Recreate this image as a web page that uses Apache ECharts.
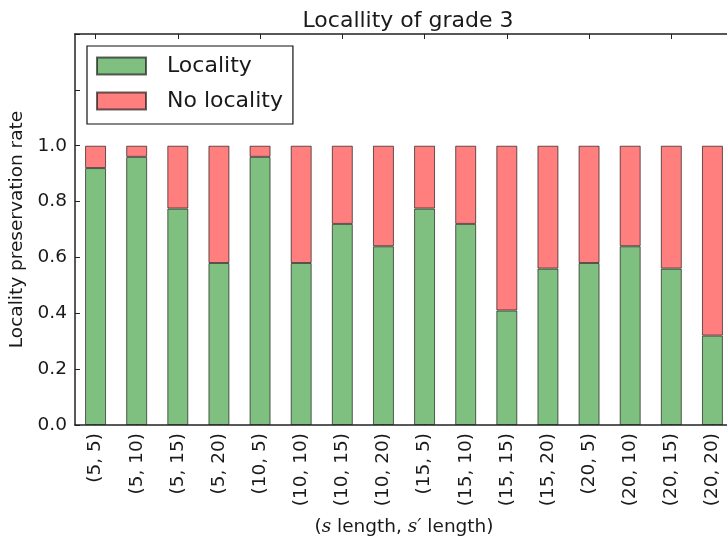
<!DOCTYPE html>
<html>
<head>
<meta charset="utf-8">
<script src="https://cdn.jsdelivr.net/npm/echarts@6/dist/echarts.min.js"></script>
<style>
  html, body { margin: 0; padding: 0; background: #fff; }
  #chart { width: 727px; height: 540px; }
</style>
</head>
<body>
<div id="chart"></div>
<script>
// (s length, s' length) pairs along the x axis
const categories = [
  '(5, 5)', '(5, 10)', '(5, 15)', '(5, 20)',
  '(10, 5)', '(10, 10)', '(10, 15)', '(10, 20)',
  '(15, 5)', '(15, 10)', '(15, 15)', '(15, 20)',
  '(20, 5)', '(20, 10)', '(20, 15)', '(20, 20)'
];

// share of cases where locality is preserved
const localityRate = [
  0.92, 0.96, 0.775, 0.58,
  0.96, 0.58, 0.72, 0.64,
  0.775, 0.72, 0.41, 0.56,
  0.58, 0.64, 0.56, 0.32
];

// share of cases where it is not
const noLocalityRate = [
  0.08, 0.04, 0.225, 0.42,
  0.04, 0.42, 0.28, 0.36,
  0.225, 0.28, 0.59, 0.44,
  0.42, 0.36, 0.44, 0.68
];

// y tick labels (ticks above 1.0 stay unlabelled)
const yTickLabels = ['0.0', '0.2', '0.4', '0.6', '0.8', '1.0'];

const FONT = 'DejaVu Sans';
const TEXT = '#1a1a1a';
const SPINE = '#222';

const chart = echarts.init(document.getElementById('chart'), null, { renderer: 'canvas' });

const commonTick = { show: true, inside: true, length: 5, lineStyle: { color: SPINE, width: 1 } };

chart.setOption({
  animation: false,
  backgroundColor: '#fff',
  textStyle: { fontFamily: FONT },
  title: {
    text: 'Locallity of grade 3',
    left: 403,
    textAlign: 'center',
    top: 5,
    textStyle: { fontFamily: FONT, fontSize: 22, fontWeight: 'normal', color: TEXT }
  },
  legend: {
    data: ['Locality', 'No locality'],
    orient: 'vertical',
    left: 87,
    top: 46,
    icon: 'rect',
    itemWidth: 49,
    itemHeight: 17,
    itemGap: 13,
    padding: [9, 10, 12, 9],
    borderColor: '#111',
    borderWidth: 1.2,
    backgroundColor: '#fff',
    textStyle: { fontFamily: FONT, fontSize: 22, color: TEXT, padding: [0, 0, 0, 16] }
  },
  grid: { left: 75, right: -6, top: 34, bottom: 115, containLabel: false, outerBoundsMode: 'none' },
  xAxis: [
    {
      type: 'category',
      data: categories,
      position: 'bottom',
      axisLine: { show: true, lineStyle: { color: SPINE, width: 1.5 } },
      axisTick: Object.assign({ alignWithLabel: true }, commonTick),
      axisLabel: { interval: 0, rotate: 90, fontSize: 18.5, margin: 8, color: TEXT, fontFamily: FONT },
      name: '({s|s} length, {s|s′} length)',
      nameLocation: 'middle',
      nameGap: 93,
      nameTextStyle: {
        fontFamily: FONT, fontSize: 18.5, color: TEXT,
        rich: { s: { fontFamily: 'DejaVu Serif', fontStyle: 'italic', fontSize: 18.5, color: TEXT } }
      },
      splitLine: { show: false }
    },
    {
      type: 'category',
      data: categories,
      position: 'top',
      axisLine: { show: true, lineStyle: { color: SPINE, width: 1.5 } },
      axisTick: Object.assign({ alignWithLabel: true }, commonTick),
      axisLabel: { show: false },
      splitLine: { show: false }
    }
  ],
  yAxis: [
    {
      type: 'value',
      min: 0,
      max: 1.4,
      interval: 0.2,
      position: 'left',
      axisLine: { show: true, lineStyle: { color: SPINE, width: 1.5 } },
      axisTick: commonTick,
      axisLabel: {
        fontSize: 18.5, color: TEXT, fontFamily: FONT, margin: 8,
        formatter: (v, i) => (yTickLabels[i] !== undefined ? yTickLabels[i] : '')
      },
      splitLine: { show: false },
      name: 'Locality preservation rate',
      nameLocation: 'middle',
      nameGap: 42,
      nameTextStyle: { fontFamily: FONT, fontSize: 18.5, color: TEXT }
    }
  ],
  series: [
    {
      name: 'Locality',
      type: 'bar',
      stack: 'rate',
      xAxisIndex: 0,
      barWidth: '51%',
      data: localityRate,
      itemStyle: { color: '#7FBF7F', borderColor: 'rgba(0,0,0,0.6)', borderWidth: 1 }
    },
    {
      name: 'No locality',
      type: 'bar',
      stack: 'rate',
      xAxisIndex: 0,
      barWidth: '51%',
      data: noLocalityRate,
      itemStyle: { color: '#FF7F7F', borderColor: 'rgba(0,0,0,0.6)', borderWidth: 1 }
    }
  ]
});
</script>
</body>
</html>
